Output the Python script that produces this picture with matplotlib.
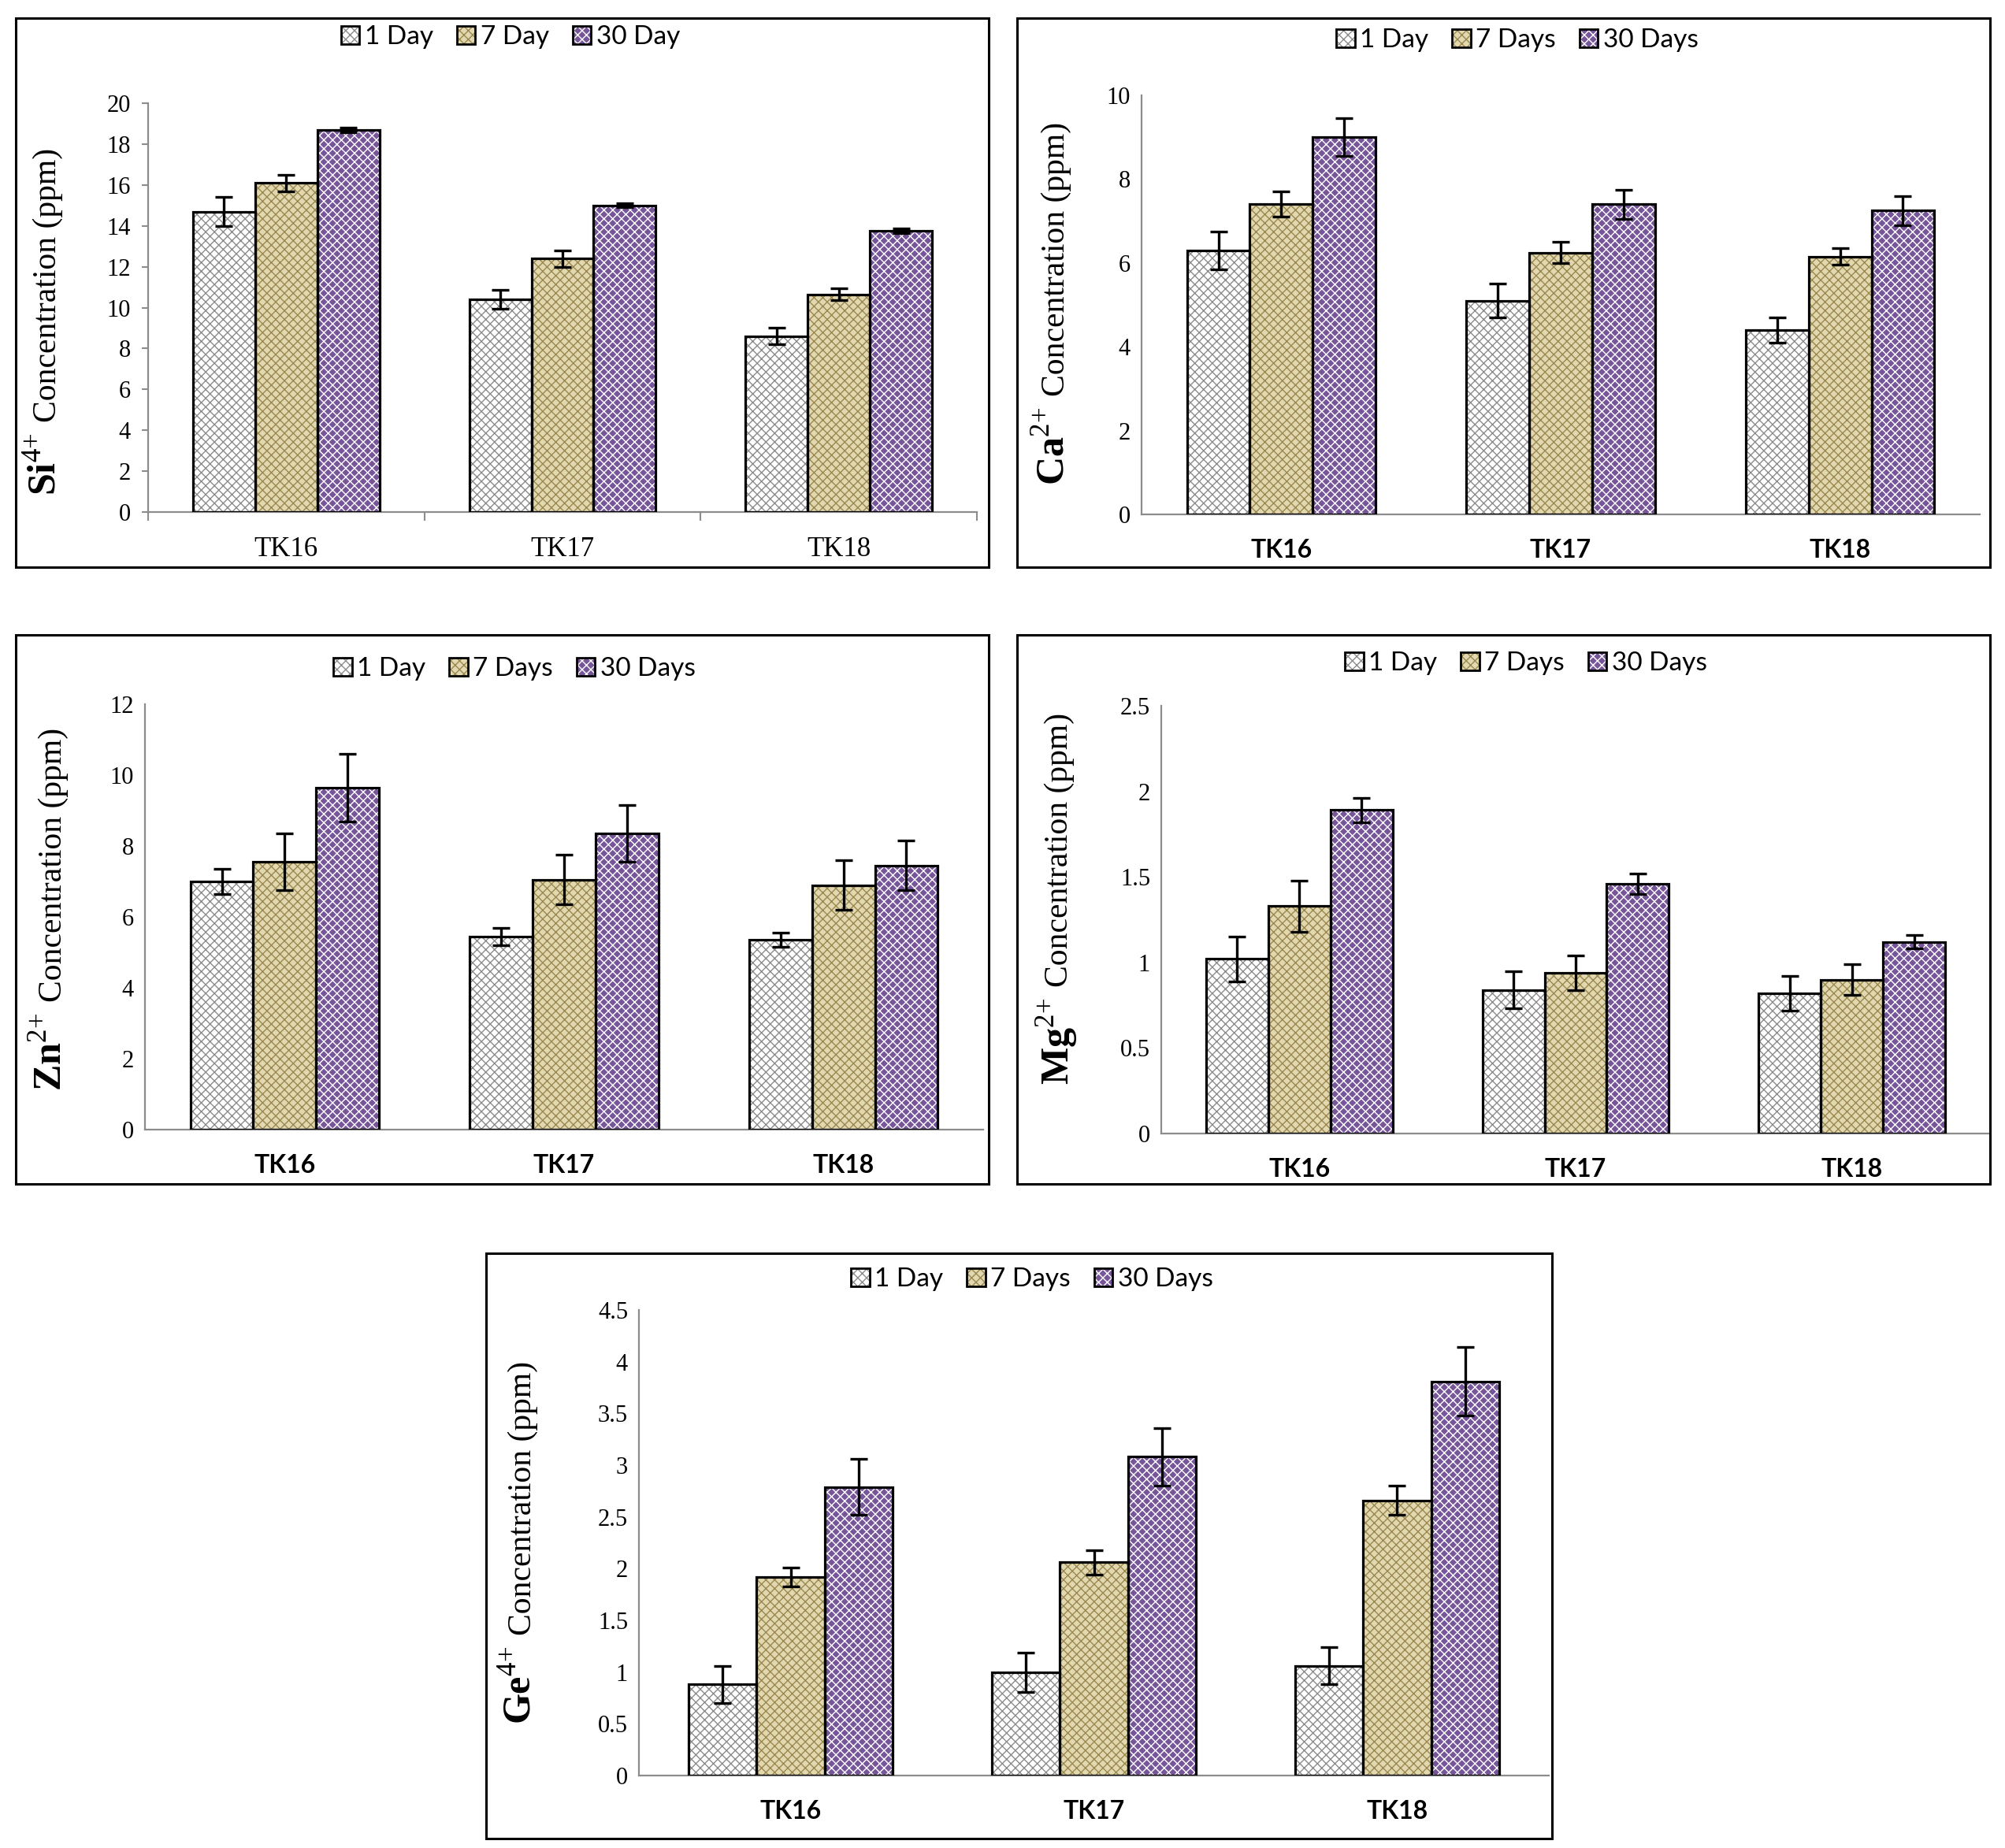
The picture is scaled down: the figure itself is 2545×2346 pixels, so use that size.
import matplotlib
matplotlib.use("Agg")
import matplotlib.pyplot as plt
from matplotlib.patches import Patch, Rectangle
from matplotlib.ticker import FuncFormatter
import numpy as np

# kategorien und zeitpunkte
groups = ["TK16", "TK17", "TK18"]
series_day = ["1 Day", "7 Day", "30 Day"]
series_days = ["1 Day", "7 Days", "30 Days"]

# werte je serie (1 / 7 / 30 Tage) fuer TK16, TK17, TK18
si_vals = [[14.7, 10.4, 8.6], [16.1, 12.4, 10.65], [18.7, 15.0, 13.75]]
si_err = [[0.7, 0.45, 0.4], [0.4, 0.4, 0.3], [0.12, 0.1, 0.12]]

ca_vals = [[6.3, 5.1, 4.4], [7.4, 6.25, 6.15], [9.0, 7.4, 7.25]]
ca_err = [[0.45, 0.4, 0.3], [0.3, 0.25, 0.2], [0.45, 0.35, 0.35]]

zn_vals = [[7.0, 5.45, 5.35], [7.55, 7.05, 6.9], [9.65, 8.35, 7.45]]
zn_err = [[0.35, 0.25, 0.2], [0.8, 0.7, 0.7], [0.95, 0.8, 0.7]]

mg_vals = [[1.02, 0.84, 0.82], [1.33, 0.94, 0.9], [1.89, 1.46, 1.12]]
mg_err = [[0.13, 0.11, 0.1], [0.15, 0.1, 0.09], [0.07, 0.06, 0.04]]

ge_vals = [[0.88, 1.0, 1.06], [1.92, 2.06, 2.66], [2.79, 3.08, 3.81]]
ge_err = [[0.18, 0.19, 0.18], [0.09, 0.12, 0.14], [0.27, 0.28, 0.33]]

# fuellung, schraffurfarbe
faces = ["#ffffff", "#e2d8b0", "#765699"]
hatch_cols = ["#8c8c8c", "#9a8850", "#ffffff"]
HATCH = "xxx"

W, H = 2545, 2346
plt.rcParams["font.family"] = ["Liberation Serif", "DejaVu Serif"]
plt.rcParams["mathtext.fontset"] = "custom"
plt.rcParams["mathtext.rm"] = "Liberation Serif"
plt.rcParams["mathtext.bf"] = "Liberation Serif:bold"
plt.rcParams["hatch.linewidth"] = 1.0

fig = plt.figure(figsize=(W / 100, H / 100), dpi=100)


def px_rect(l, t, r, b):
    return [l / W, 1 - b / H, (r - l) / W, (b - t) / H]


def panel(axpx, boxpx, legxy, elem, charge, vals, errs, ymax, ystep, labels,
          xfont, si_style, lab_dx, lab_y):
    ax = fig.add_axes(px_rect(*axpx))
    x = np.arange(len(groups))
    bw = 0.225
    for i in range(3):
        pos = x + (i - 1) * bw
        ax.bar(pos, vals[i], bw, facecolor=faces[i], hatch=HATCH,
               edgecolor=hatch_cols[i], linewidth=0, zorder=2)
        ax.bar(pos, vals[i], bw, fill=False, edgecolor="black",
               linewidth=2.3, zorder=3)
        ax.errorbar(pos, vals[i], yerr=errs[i], fmt="none", ecolor="black",
                    elinewidth=2.4, capsize=8, capthick=2.4, zorder=4)
    ax.set_xlim(-0.5, 2.5)
    ax.set_ylim(0, ymax)
    ax.set_yticks(np.arange(0, ymax + ystep / 2, ystep))
    ax.yaxis.set_major_formatter(FuncFormatter(lambda v, p: f"{v:g}"))
    ax.set_xticks(x)
    ax.set_xticklabels(groups, **xfont)
    for s in ["top", "right"]:
        ax.spines[s].set_visible(False)
    for s in ["left", "bottom"]:
        ax.spines[s].set_color("#8c8c8c")
        ax.spines[s].set_linewidth(1.6)
    ax.tick_params(axis="y", labelsize=22, pad=10,
                   length=6 if si_style else 0, color="#8c8c8c", width=1.5)
    ax.tick_params(axis="x", length=0, pad=22)
    if si_style:
        ax.set_xticks([-0.5, 0.5, 1.5, 2.5], minor=True)
        ax.tick_params(axis="x", which="minor", length=8, color="#8c8c8c",
                       width=1.5)

    # y-beschriftung: element fett und groesser
    axw = axpx[2] - axpx[0]
    t = ax.text(-lab_dx / axw, lab_y,
                r"$\mathbf{%s}^{%s{+}}$" % (elem, charge),
                transform=ax.transAxes, rotation=90, ha="center", va="bottom",
                fontsize=36)
    ax.annotate("Concentration (ppm)", xy=(0.5, 1), xycoords=t,
                xytext=(2, 10), textcoords="offset points", rotation=90,
                ha="center", va="bottom", fontsize=30)

    handles = [(Patch(facecolor=faces[i], edgecolor=hatch_cols[i], hatch=HATCH,
                      linewidth=0),
                Patch(fill=False, edgecolor="black", linewidth=2))
               for i in range(3)]
    fig.legend(handles, labels, loc="center",
               bbox_to_anchor=(legxy[0] / W, 1 - legxy[1] / H), ncol=3,
               frameon=False, handlelength=0.7, handleheight=0.7,
               handletextpad=0.2, columnspacing=0.9,
               prop={"family": "Lato", "size": 24})

    l, t_, r, b = boxpx
    fig.add_artist(Rectangle((l / W, 1 - b / H), (r - l) / W, (b - t_) / H,
                             transform=fig.transFigure, fill=False,
                             edgecolor="black", linewidth=2.2))
    return ax


serif_x = {"fontfamily": "Liberation Serif", "fontsize": 25}
sans_x = {"fontfamily": "Lato", "fontsize": 23, "fontweight": "bold"}

panel((188, 131, 1240, 650), (20, 23, 1255, 720), (648, 47), "Si", "4",
      si_vals, si_err, 20, 2, series_day, serif_x, True, 130, 0.04)
panel((1449, 121, 2513, 653), (1291, 23, 2526, 720), (1926, 51), "Ca", "2",
      ca_vals, ca_err, 10, 2, series_days, sans_x, False, 111, 0.07)
panel((184, 894, 1248, 1434), (20, 806, 1255, 1503), (653, 849), "Zn", "2",
      zn_vals, zn_err, 12, 2, series_days, sans_x, False, 119, 0.09)
panel((1474, 896, 2526, 1439), (1291, 806, 2526, 1503), (1937, 842), "Mg", "2",
      mg_vals, mg_err, 2.5, 0.5, series_days, sans_x, False, 132, 0.115)
panel((811, 1663, 1966, 2254), (617, 1591, 1970, 2334), (1310, 1624), "Ge", "4",
      ge_vals, ge_err, 4.5, 0.5, series_days, sans_x, False, 150, 0.11)

fig.savefig("out.png", dpi=100, facecolor="white")
